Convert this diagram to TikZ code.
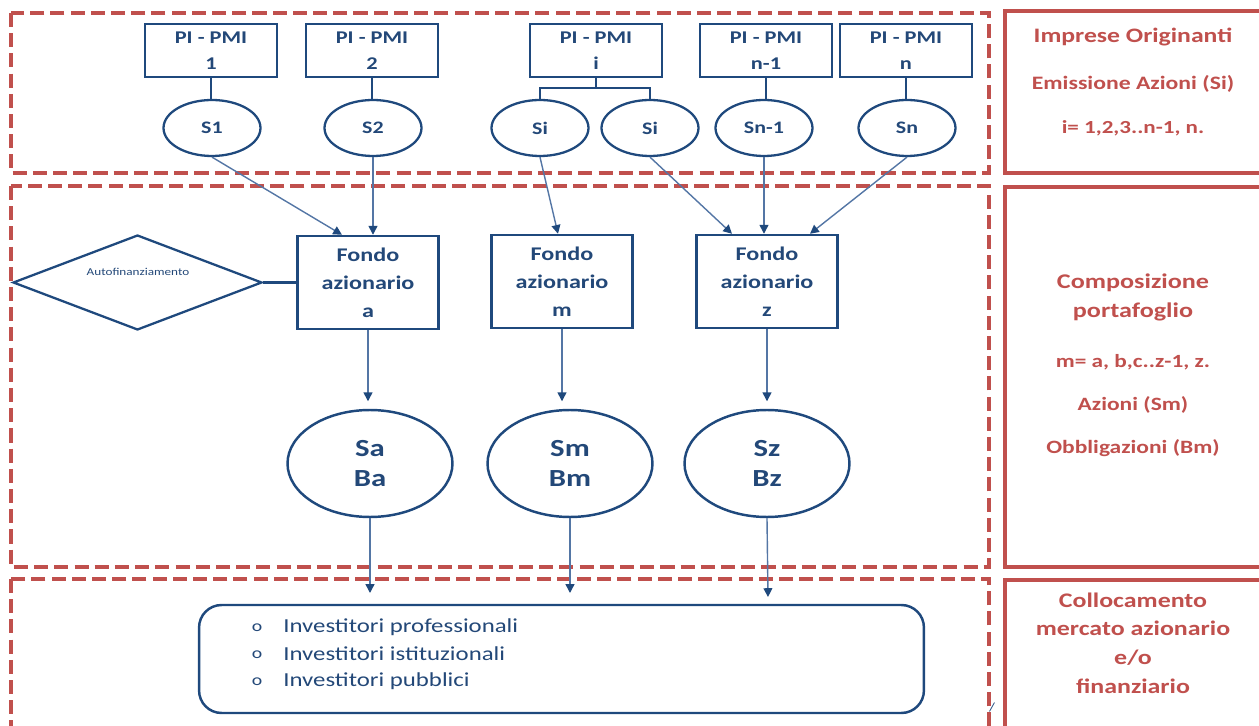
\documentclass[tikz,border=0pt]{standalone}
\usepackage{fontspec}
\setmainfont{Carlito}[FakeStretch=1.25]
\usetikzlibrary{shapes.geometric,arrows.meta}
\definecolor{dkblue}{RGB}{31,73,125}
\definecolor{txtblue}{RGB}{35,72,120}
\definecolor{arrblue}{RGB}{84,118,165}
\definecolor{redc}{RGB}{192,80,77}
\newcommand{\fsz}[2]{\fontsize{#1}{#2}\selectfont}
\begin{document}
\begin{tikzpicture}[x=0.02cm,y=-0.02cm,
  reddash/.style={draw=redc, line width=1.9pt, dash pattern=on 8pt off 3.5pt},
  redbox/.style={draw=redc, line width=1.8pt},
  pbox/.style={draw=dkblue, line width=1.3pt, minimum width=2.64cm, minimum height=1.06cm, inner sep=0pt, align=center, text=txtblue, font=\fsz{10.2}{15}\bfseries},
  sell/.style={ellipse, draw=dkblue, line width=1.3pt, minimum width=1.94cm, minimum height=1.12cm, inner sep=0pt, text=txtblue, font=\fsz{10}{12}\bfseries},
  fbox/.style={draw=dkblue, line width=1.4pt, minimum width=2.82cm, minimum height=1.86cm, inner sep=0pt, align=center, text=txtblue, font=\fsz{11}{15.9}\bfseries},
  bell/.style={ellipse, draw=dkblue, line width=1.4pt, minimum width=3.3cm, minimum height=2.14cm, inner sep=0pt, align=center, text=txtblue, font=\fsz{14}{17}\bfseries},
  link/.style={draw=dkblue, line width=1.4pt},
  arr/.style={draw=arrblue, line width=0.8pt, -{Triangle[length=5pt,width=5pt,color=dkblue]}},
  redtxt/.style={text=redc, align=center, inner sep=0pt},
  itemtxt/.style={text=txtblue, anchor=west, inner sep=0pt, font=\fsz{11.3}{13}},
]
\useasboundingbox (0,0) rectangle (1259,726);
\clip (0,0) rectangle (1259,726);

% frames
\draw[reddash] (11,13) rectangle (989,173);
\draw[reddash] (11,186) rectangle (989,567);
\draw[reddash] (11,579) rectangle (989,780);
\draw[redbox] (1005,11) rectangle (1280,173);
\draw[redbox] (1005,187) rectangle (1280,567);
\draw[redbox] (1005,580) rectangle (1280,780);

% top row boxes
\node[pbox] (p1) at (211,50.5) {PI - PMI\\1};
\node[pbox] (p2) at (372,50.5) {PI - PMI\\2};
\node[pbox] (pi) at (596,50.5) {PI - PMI\\i};
\node[pbox] (pn1) at (766,50.5) {PI - PMI\\n-1};
\node[pbox] (pn) at (906,50.5) {PI - PMI\\n};

% shares ellipses
\node[sell] (s1) at (212,128) {S1};
\node[sell] (s2) at (373,128) {S2};
\node[sell] (si1) at (540,128) {Si};
\node[sell] (si2) at (650,128) {Si};
\node[sell] (sn1) at (764,128) {Sn-1};
\node[sell] (sn) at (907,128) {Sn};

\draw[link] (p1.south) -- (p1.south |- s1.north);
\draw[link] (p2.south) -- (p2.south |- s2.north);
\draw[link] (pi.south) -- ++(0,10) coordinate (bj);
\draw[link] (bj) -| (si1.north);
\draw[link] (bj) -| (si2.north);
\draw[link] (pn1.south) -- (pn1.south |- sn1.north);
\draw[link] (pn.south) -- (pn.south |- sn.north);

% funds
\node[fbox] (fa) at (368,282.5) {Fondo\\azionario\\a};
\node[fbox] (fm) at (562,281.5) {Fondo\\azionario\\m};
\node[fbox] (fz) at (767,281.5) {Fondo\\azionario\\z};

\draw[arr] (s1.south) -- ([xshift=-0.52cm]fa.north);
\draw[arr] (s2.south) -- (s2.south |- fa.north);
\draw[arr] (si1.south) -- ([xshift=-0.08cm]fm.north);
\draw[arr] (si2.south) -- ([xshift=-0.7cm]fz.north);
\draw[arr] (sn1.south) -- (sn1.south |- fz.north);
\draw[arr] (sn.south) -- ([xshift=0.86cm]fz.north);

% self-financing
\node[diamond, draw=dkblue, line width=1.3pt, minimum width=4.98cm, minimum height=1.9cm, inner sep=0pt] (dia) at (137.5,282.5) {};
\node[text=txtblue, font=\fsz{6}{7}, inner sep=0pt] (auto) at (138,272) {Autofinanziamento};
\draw[link] (dia.east) -- (fa.west);

% portfolios
\node[bell] (sa) at (370,463.5) {Sa\\Ba};
\node[bell] (sm) at (570,463.5) {Sm\\Bm};
\node[bell] (sz) at (767,463.5) {Sz\\Bz};

\draw[arr, shorten >=0.15cm] (fa.south) -- (fa.south |- sa.north);
\draw[arr, shorten >=0.15cm] (fm.south) -- (fm.south |- sm.north);
\draw[arr, shorten >=0.15cm] (fz.south) -- (fz.south |- sz.north);

\coordinate (ea) at (370,593);
\coordinate (em) at (570,593);
\coordinate (ez) at (768,597);
\draw[arr] (sa.south) -- (ea);
\draw[arr] (sm.south) -- (em);
\draw[arr] (sz.south) -- (ez);

% investors
\node[draw=dkblue, line width=1.4pt, rounded corners=0.45cm, minimum width=14.5cm, minimum height=2.16cm] (inv) at (561.5,659) {};
\node[text=txtblue, font=\fsz{9}{10}, inner sep=0pt] (b1) at (257,628) {o};
\node[text=txtblue, font=\fsz{9}{10}, inner sep=0pt] (b2) at (257,655) {o};
\node[text=txtblue, font=\fsz{9}{10}, inner sep=0pt] (b3) at (257,682) {o};
\node[itemtxt] (t1) at (283,627) {Investitori professionali};
\node[itemtxt] (t2) at (283,654) {Investitori istituzionali};
\node[itemtxt] (t3) at (283,681) {Investitori pubblici};
\node[text=dkblue, font=\fsz{7}{8}, inner sep=0pt] (stray) at (992,707) {/};

% right panel texts
\node[redtxt, font=\fsz{11.7}{14}\bfseries] (r1) at (1133,37) {Imprese Originanti};
\node[redtxt, font=\fsz{10.8}{13}\bfseries] (r2) at (1133,84) {Emissione Azioni (Si)};
\node[redtxt, font=\fsz{10.5}{13}\bfseries] (r3) at (1133,128) {i= 1,2,3..n-1, n.};
\node[redtxt, font=\fsz{11.9}{16.5}\bfseries] (r4) at (1133,297) {Composizione\\portafoglio};
\node[redtxt, font=\fsz{10.6}{13}\bfseries] (r5) at (1133,362) {m= a, b,c..z-1, z.};
\node[redtxt, font=\fsz{10.7}{13}\bfseries] (r6) at (1133,405) {Azioni (Sm)};
\node[redtxt, font=\fsz{10.7}{13}\bfseries] (r7) at (1133,448) {Obbligazioni (Bm)};
\node[redtxt, font=\fsz{11.8}{16.3}\bfseries] (r8) at (1133,643) {Collocamento\\mercato azionario\\e/o\\finanziario};
\end{tikzpicture}
\end{document}
